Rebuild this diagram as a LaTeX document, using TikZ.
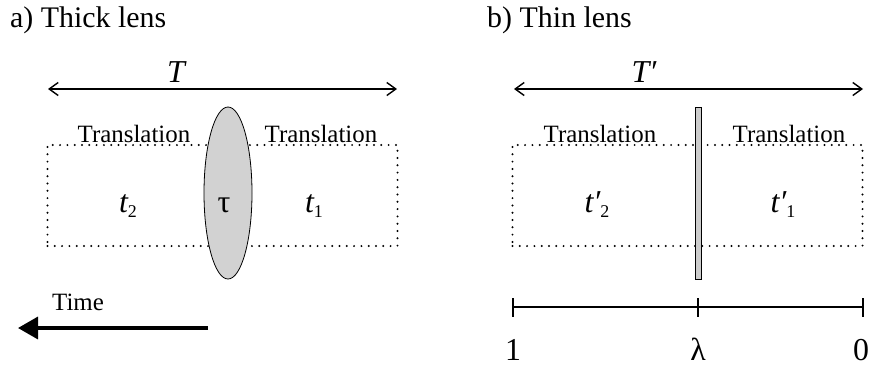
\documentclass[tikz,border=0pt]{standalone}
\usepackage{fontspec}
\setmainfont{Liberation Serif}
\usetikzlibrary{arrows.meta,positioning,shapes.geometric}
\newcommand{\lsub}[1]{\raisebox{-5bp}{\fontsize{18}{20}\selectfont #1}}

\begin{document}
\begin{tikzpicture}[x=1bp,y=-1bp,
 ttl/.style={font=\fontsize{30}{35}\selectfont,anchor=base west,inner sep=0pt},
 trl/.style={font=\fontsize{25}{30}\selectfont,anchor=base,inner sep=0pt},
 lbl/.style={font=\fontsize{32}{38}\selectfont,anchor=base,inner sep=0pt},
 span/.style={{Straight Barb[length=9bp,width=13bp]}-{Straight Barb[length=9bp,width=13bp]},line width=1.4bp},
 dotbox/.style={draw,line width=2.2bp,line cap=round,dash pattern=on 0bp off 7.3bp,
   minimum width=350bp,minimum height=101bp,inner sep=0pt},
 tick/.style={line width=1.8bp}]
\useasboundingbox (0,0) rectangle (870,370);
% a) thick lens
\node[ttl] (ta) at (10,27) {a) Thick lens};
\coordinate (al) at (48,89); \coordinate (ar) at (397,89);
\draw[span] (al)--(ar);
\node[lbl] (T) at (176,82) {\itshape T};
\node[dotbox] (boxa) at (222.5,195.5) {};
\node[trl] (tra) at (134,142) {Translation};
\node[trl] (trb) at (321,142) {Translation};
\node[draw,ellipse,line width=0.8bp,fill=gray!35,minimum width=48bp,minimum height=172bp,inner sep=0pt] (lens) at (228,193) {};
\node[lbl] (t2) at (128,212) {{\itshape t}\lsub{2}};
\node[lbl] (tau) at (224,212) {τ};
\node[lbl] (t1) at (314,212) {{\itshape t}\lsub{1}};
\node[trl,anchor=base west] (time) at (52,310) {Time};
\coordinate (ts) at (208,328); \coordinate (te) at (18,328);
\draw[line width=3.5bp,-{Triangle[length=20bp,width=22bp]}] (ts)--(te);
% b) thin lens
\node[ttl] (tb) at (487,27) {b) Thin lens};
\coordinate (bl) at (514,89); \coordinate (br) at (863,89);
\draw[span] (bl)--(br);
\node[lbl] (Tp) at (644,82) {\itshape T′};
\node[dotbox] (boxb) at (687.5,195.5) {};
\node[trl] (trc) at (600,142) {Translation};
\node[trl] (trd) at (789,142) {Translation};
\node[draw,line width=0.8bp,fill=gray!40,minimum width=6bp,minimum height=172bp,inner sep=0pt] (thin) at (698,193) {};
\node[lbl] (tp2) at (597,212) {{\itshape t′}\lsub{2}};
\node[lbl] (tp1) at (783,212) {{\itshape t′}\lsub{1}};
% scale
\coordinate (s1) at (513,307); \coordinate (sl) at (698,307); \coordinate (s0) at (863,307);
\draw[tick] (s1)--(s0);
\draw[tick] ([yshift=-9.5bp]s1)--([yshift=9.5bp]s1);
\draw[tick] ([yshift=-9.5bp]sl)--([yshift=9.5bp]sl);
\draw[tick] ([yshift=-9.5bp]s0)--([yshift=9.5bp]s0);
\node[lbl] (one) at (513,360) {1};
\node[lbl] (lam) at (698,360) {λ};
\node[lbl] (zero) at (861,360) {0};
\end{tikzpicture}
\end{document}
